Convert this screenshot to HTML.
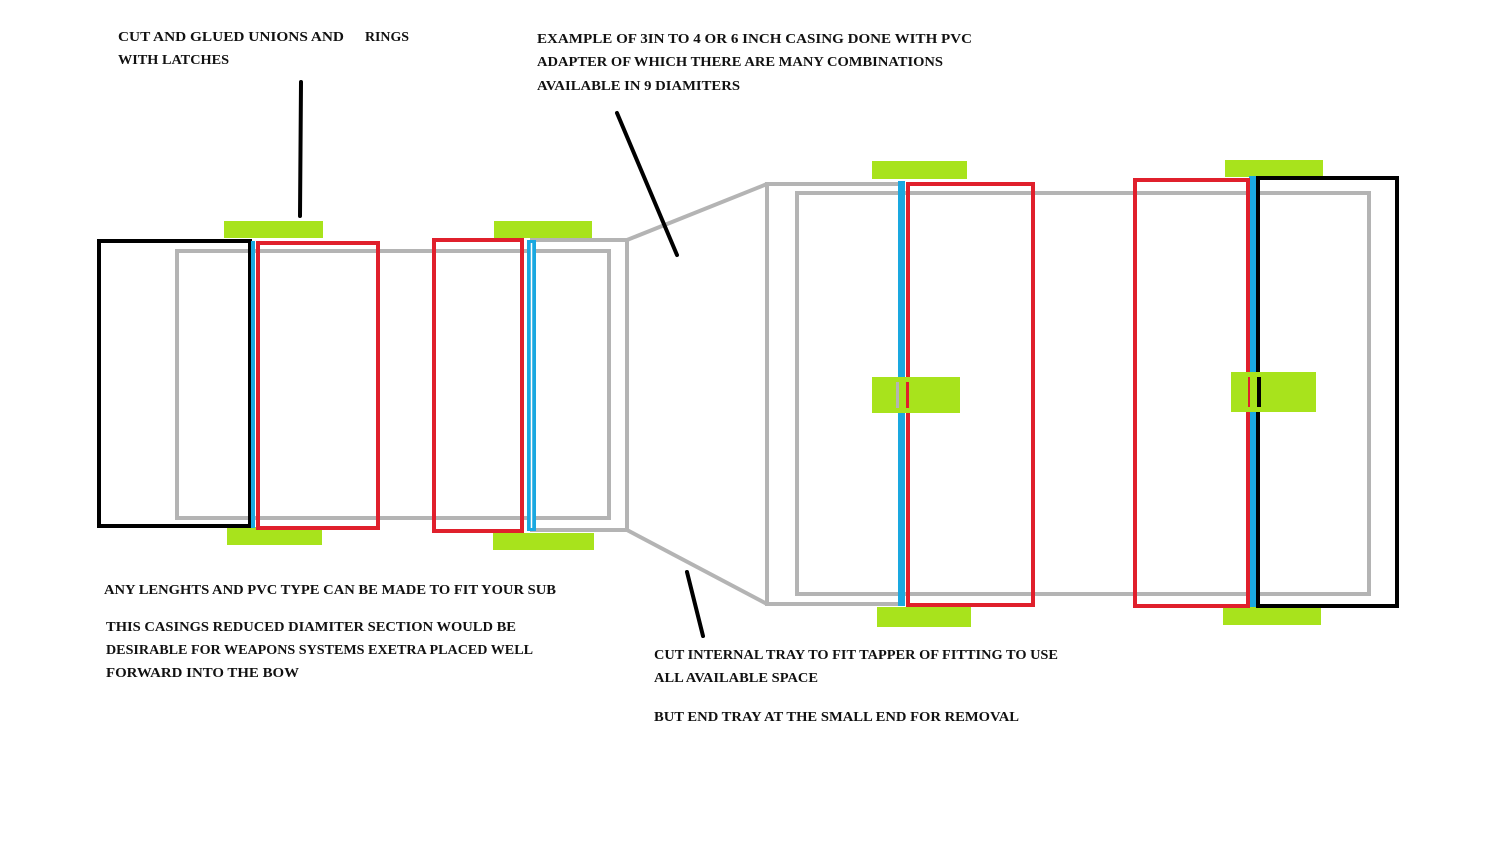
<!DOCTYPE html>
<html><head><meta charset="utf-8"><style>
html,body{margin:0;padding:0;background:#fff;}
svg{display:block;}
text{font-family:"Liberation Serif",serif;font-size:13.5px;font-weight:bold;fill:#111;}
</style></head><body>
<svg width="1499" height="841" viewBox="0 0 1499 841" xmlns="http://www.w3.org/2000/svg">
<rect width="1499" height="841" fill="#fff"/>
<g fill="none" stroke="#b4b4b4" stroke-width="4">
<rect x="177" y="251" width="432" height="267"/>
<polyline points="530,240 627,240 627,530 530,530"/>
<line x1="627" y1="240" x2="767" y2="184"/>
<line x1="627" y1="530" x2="767" y2="604"/>
<polyline points="900,184 767,184 767,604 900,604"/>
<rect x="797" y="193" width="572" height="401"/>
</g>
<g fill="#a8e31c">
<rect x="224" y="221" width="99" height="17"/>
<rect x="227" y="527" width="95" height="18"/>
<rect x="494" y="221" width="98" height="17"/>
<rect x="493" y="533" width="101" height="17"/>
<rect x="872" y="161" width="95" height="18"/>
<rect x="877" y="607" width="94" height="20"/>
<rect x="1225" y="160" width="98" height="17"/>
<rect x="1223" y="607" width="98" height="18"/>
</g>
<g fill="none" stroke="#000" stroke-width="4">
<rect x="99" y="241" width="151" height="285"/>
<rect x="1258" y="178" width="139" height="428"/>
</g>
<g fill="#1aa8e0">
<rect x="251" y="241" width="4" height="287"/>
<rect x="527" y="240" width="9" height="291"/>
<rect x="898" y="181" width="7" height="425"/>
<rect x="1249" y="176" width="7" height="431"/>
</g>
<line x1="531.5" y1="243" x2="531.5" y2="528" stroke="#fff" stroke-width="1.5"/>
<g fill="none" stroke="#e0202c" stroke-width="4">
<rect x="258" y="243" width="120" height="285"/>
<rect x="434" y="240" width="88" height="291"/>
<rect x="908" y="184" width="125" height="421"/>
<rect x="1135" y="180" width="113" height="426"/>
</g>
<g fill="#a8e31c">
<rect x="872" y="377" width="88" height="36"/>
<rect x="1231" y="372" width="85" height="40"/>
</g>
<rect x="896" y="382" width="3" height="26" fill="#b4b4b4"/>
<rect x="906" y="382" width="3" height="26" fill="#e0202c"/>
<rect x="1248" y="377" width="2" height="30" fill="#e0202c"/>
<rect x="1257" y="377" width="4" height="30" fill="#000"/>
<g stroke="#000" stroke-width="4" stroke-linecap="round">
<line x1="301" y1="82" x2="300" y2="216"/>
<line x1="617" y1="113" x2="677" y2="255"/>
<line x1="687" y1="572" x2="703" y2="636"/>
</g>
<g lengthAdjust="spacingAndGlyphs">
<text x="118" y="41" textLength="226" lengthAdjust="spacingAndGlyphs">CUT AND GLUED UNIONS AND</text>
<text x="365" y="41" textLength="44" lengthAdjust="spacingAndGlyphs">RINGS</text>
<text x="118" y="64" textLength="111" lengthAdjust="spacingAndGlyphs">WITH LATCHES</text>
<text x="537" y="43" textLength="435" lengthAdjust="spacingAndGlyphs">EXAMPLE OF 3IN TO 4 OR 6 INCH CASING DONE WITH PVC</text>
<text x="537" y="66" textLength="406" lengthAdjust="spacingAndGlyphs">ADAPTER OF WHICH THERE ARE MANY COMBINATIONS</text>
<text x="537" y="90" textLength="203" lengthAdjust="spacingAndGlyphs">AVAILABLE IN 9 DIAMITERS</text>
<text x="104" y="594" textLength="452" lengthAdjust="spacingAndGlyphs">ANY LENGHTS AND PVC TYPE CAN BE MADE TO FIT YOUR SUB</text>
<text x="106" y="631" textLength="410" lengthAdjust="spacingAndGlyphs">THIS CASINGS REDUCED DIAMITER SECTION WOULD BE</text>
<text x="106" y="654" textLength="427" lengthAdjust="spacingAndGlyphs">DESIRABLE FOR WEAPONS SYSTEMS EXETRA PLACED WELL</text>
<text x="106" y="677" textLength="193" lengthAdjust="spacingAndGlyphs">FORWARD INTO THE BOW</text>
<text x="654" y="659" textLength="404" lengthAdjust="spacingAndGlyphs">CUT INTERNAL TRAY TO FIT TAPPER OF FITTING TO USE</text>
<text x="654" y="682" textLength="164" lengthAdjust="spacingAndGlyphs">ALL AVAILABLE SPACE</text>
<text x="654" y="721" textLength="365" lengthAdjust="spacingAndGlyphs">BUT END TRAY AT THE SMALL END FOR REMOVAL</text>
</g>
</svg>
</body></html>
